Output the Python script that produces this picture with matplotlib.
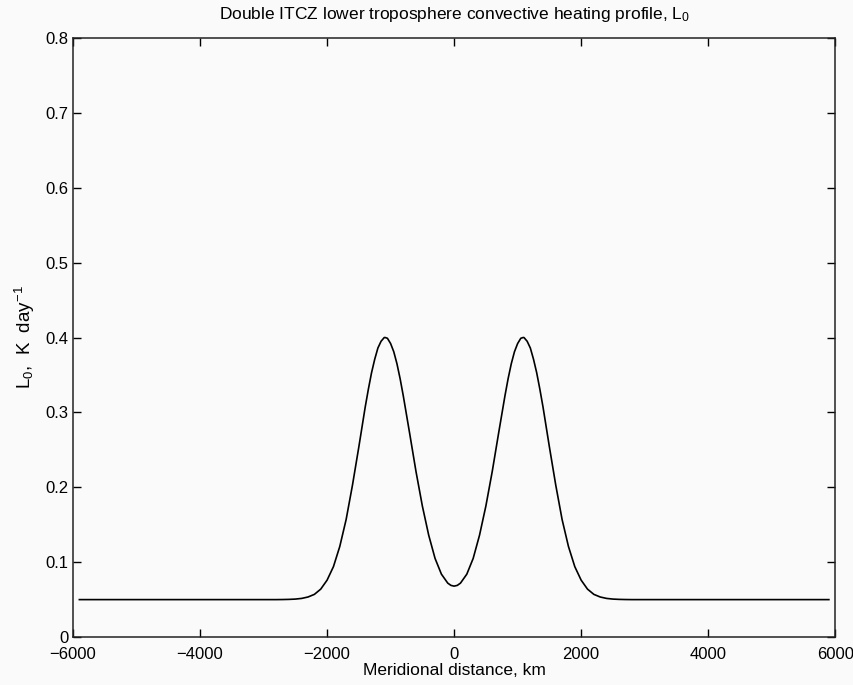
import matplotlib
matplotlib.use("Agg")
import matplotlib.pyplot as plt

plt.rcParams['font.family'] = ['Liberation Sans', 'DejaVu Sans']
plt.rcParams['mathtext.default'] = 'regular'

# meridional distance (km) and heating values
distance_km = [-5900, -2800, -2700, -2600, -2500, -2400, -2300, -2200, -2100, -2000,
               -1900, -1800, -1700, -1600, -1500, -1400, -1350, -1300, -1250, -1200,
               -1150, -1100, -1085, -1050, -1000, -950, -900, -850, -800, -700,
               -600, -500, -400, -300, -200, -100, -50, 0, 50, 100,
               200, 300, 400, 500, 600, 700, 800, 850, 900, 950,
               1000, 1050, 1085, 1100, 1150, 1200, 1250, 1300, 1350, 1400,
               1500, 1600, 1700, 1800, 1900, 2000, 2100, 2200, 2300, 2400,
               2500, 2600, 2700, 2800, 5900]
heating = [0.050, 0.050, 0.0501, 0.0503, 0.0507, 0.0516, 0.0535, 0.057, 0.064, 0.076,
           0.094, 0.121, 0.157, 0.203, 0.254, 0.307, 0.331, 0.353, 0.371, 0.386,
           0.395, 0.400, 0.400, 0.399, 0.392, 0.381, 0.365, 0.345, 0.322, 0.272,
           0.221, 0.175, 0.136, 0.105, 0.084, 0.072, 0.069, 0.068, 0.069, 0.072,
           0.084, 0.105, 0.136, 0.175, 0.221, 0.272, 0.322, 0.345, 0.365, 0.381,
           0.392, 0.399, 0.400, 0.400, 0.395, 0.386, 0.371, 0.353, 0.331, 0.307,
           0.254, 0.203, 0.157, 0.121, 0.094, 0.076, 0.064, 0.057, 0.0535, 0.0516,
           0.0507, 0.0503, 0.0501, 0.050, 0.050]

x_ticks = [-6000, -4000, -2000, 0, 2000, 4000, 6000]
y_ticks = [0, 0.1, 0.2, 0.3, 0.4, 0.5, 0.6, 0.7, 0.8]
y_labels = ["0", "0.1", "0.2", "0.3", "0.4", "0.5", "0.6", "0.7", "0.8"]

fig = plt.figure(figsize=(8.54, 6.85), dpi=100, facecolor="#fafafa")
ax = fig.add_axes([0.0855, 0.070, 0.8925, 0.8745])
ax.set_facecolor("#fafafa")

ax.plot(distance_km, heating, color="black", linewidth=1.2)

ax.set_xlim(-6000, 6000)
ax.set_ylim(0, 0.8)
ax.set_xticks(x_ticks)
ax.set_yticks(y_ticks)
ax.set_yticklabels(y_labels)
ax.tick_params(direction="in", length=5.5, width=1, top=True, right=True,
               labelsize=12, colors="black")
ax.tick_params(axis="x", pad=7)
ax.tick_params(axis="y", pad=3)
for spine in ax.spines.values():
    spine.set_linewidth(1.1)
    spine.set_color("#222222")

ax.set_title("Double ITCZ lower troposphere convective heating profile, L$_0$",
             fontsize=12.5, pad=14)
ax.set_xlabel("Meridional distance, km", fontsize=12.5, labelpad=1)
ax.set_ylabel("L$_0$,  K  day$^{-1}$", fontsize=13.5, labelpad=6)

fig.savefig("out.png", dpi=100, facecolor=fig.get_facecolor())
